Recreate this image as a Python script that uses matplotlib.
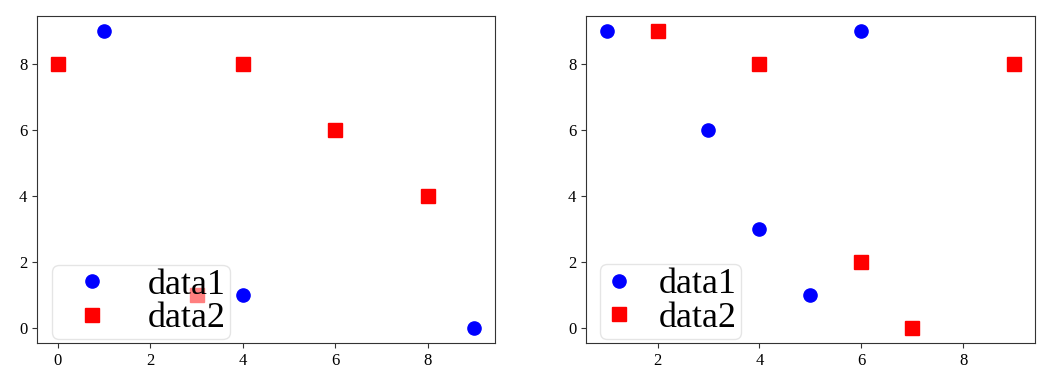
import matplotlib
matplotlib.use("Agg")
import matplotlib.pyplot as plt

plt.rcParams['font.family'] = ['Liberation Serif', 'DejaVu Serif']
plt.rcParams['axes.edgecolor'] = '0.2'
plt.rcParams['xtick.color'] = '0.2'
plt.rcParams['ytick.color'] = '0.2'
plt.rcParams['xtick.labelcolor'] = 'black'
plt.rcParams['ytick.labelcolor'] = 'black'
plt.rcParams['xtick.labelsize'] = 12
plt.rcParams['ytick.labelsize'] = 12

# left panel
left_x1 = [0, 1, 4, 9]
left_y1 = [8, 9, 1, 0]
left_x2 = [0, 3, 4, 6, 8]
left_y2 = [8, 1, 8, 6, 4]

# right panel
right_x1 = [1, 3, 4, 5, 6]
right_y1 = [9, 6, 3, 1, 9]
right_x2 = [2, 4, 6, 7, 9]
right_y2 = [9, 8, 2, 0, 8]

labels = ['data1', 'data2']

fig = plt.figure(figsize=(10.6, 3.9), dpi=100)
ax1 = fig.add_axes([0.035, 0.121, 0.432, 0.838])
ax2 = fig.add_axes([0.553, 0.121, 0.423, 0.838])

ax1.plot(left_x1, left_y1, 'bo', markersize=9.5, label=labels[0])
ax1.plot(left_x2, left_y2, 'rs', markersize=9.5, label=labels[1])
ax2.plot(right_x1, right_y1, 'bo', markersize=9.5, label=labels[0])
ax2.plot(right_x2, right_y2, 'rs', markersize=9.5, label=labels[1])

ax1.legend(loc='lower left', bbox_to_anchor=(0.033, 0.012), borderaxespad=0,
           fontsize=26, labelspacing=0, borderpad=0.1, handlelength=2.0,
           handletextpad=0.55, framealpha=0.5)
ax2.legend(loc='lower left', bbox_to_anchor=(0.031, 0.012), borderaxespad=0,
           fontsize=26, labelspacing=0, borderpad=0.12, handlelength=0.8,
           handletextpad=0.7, framealpha=0.5)

for ax in (ax1, ax2):
    ax.set_xticks([0, 2, 4, 6, 8])
    ax.set_yticks([0, 2, 4, 6, 8])

ax2.set_xlim(0.6, 9.4)

fig.savefig('out.png', dpi=100)
